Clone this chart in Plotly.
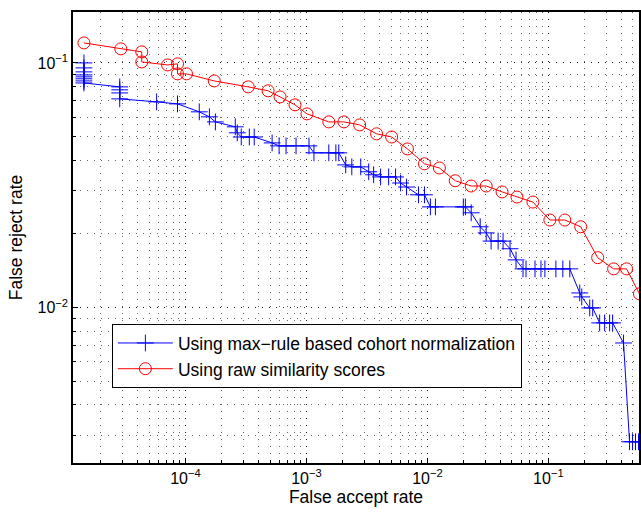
import plotly.graph_objects as go

# Data (log-log DET-style curves)
far_cohort = [1.447e-5, 1.447e-5, 1.447e-5, 1.447e-5, 1.447e-5, 1.447e-5, 1.447e-5, 1.447e-5,
              2.86e-5, 2.86e-5, 2.86e-5, 2.86e-5,
              5.77e-5, 8.59e-5, 1.30e-4, 1.576e-4, 1.766e-4,
              2.58e-4, 2.68e-4, 2.89e-4, 3.37e-4, 3.70e-4,
              5.20e-4, 5.94e-4, 6.78e-4, 8.20e-4, 1.049e-3,
              1.153e-3, 1.53e-3, 1.75e-3, 1.85e-3,
              2.11e-3, 2.37e-3, 2.81e-3, 3.27e-3, 3.59e-3,
              4.10e-3, 4.78e-3, 5.45e-3, 6.0e-3, 6.72e-3,
              8.43e-3, 9.45e-3, 0.01058, 0.01164, 0.0198, 0.0206,
              0.0230, 0.0273, 0.0306, 0.0336, 0.0384, 0.0422,
              0.0482, 0.054, 0.0617, 0.0653, 0.0775, 0.0868, 0.0936,
              0.1153, 0.1316, 0.1503, 0.1816, 0.1887,
              0.2196, 0.2324, 0.2654, 0.2917, 0.3208, 0.3396,
              0.418, 0.4686, 0.496, 0.525, 0.556]
frr_cohort = [0.100, 0.0954, 0.0919, 0.0893, 0.0877, 0.0861, 0.0844, 0.0828,
              0.0798, 0.0776, 0.0754, 0.0713,
              0.0693, 0.0680, 0.0631, 0.0602, 0.0574,
              0.0548, 0.0518, 0.0498, 0.0498, 0.0498,
              0.0471, 0.0458, 0.0458, 0.0458, 0.0458,
              0.0429, 0.0429, 0.0429, 0.0429,
              0.0383, 0.0376, 0.0376, 0.0359, 0.0349,
              0.0342, 0.0342, 0.0342, 0.0323, 0.0311,
              0.0289, 0.0289, 0.0258, 0.0258, 0.0258, 0.0258,
              0.0244, 0.0214, 0.0202, 0.0187, 0.0187, 0.0187,
              0.0174, 0.01567, 0.0144, 0.0144, 0.0144, 0.0144, 0.0144,
              0.0144, 0.0144, 0.0144, 0.01148, 0.01106,
              0.00997, 0.00997, 0.00866, 0.00866, 0.00866, 0.00866,
              0.00717, 0.00283, 0.00283, 0.00283, 0.00283]

far_raw = [1.447e-5, 2.92e-5, 4.35e-5, 4.35e-5, 7.11e-5, 8.59e-5, 8.59e-5, 1.02e-4,
           1.73e-4, 3.30e-4, 4.82e-4, 6.05e-4, 8.04e-4, 1.01e-3, 1.53e-3, 2.04e-3,
           2.75e-3, 3.80e-3, 5.06e-3, 6.84e-3, 9.45e-3, 0.01256, 0.01698, 0.0230,
           0.0306, 0.0414, 0.0550, 0.0745, 0.1028, 0.1367, 0.185, 0.2555, 0.346,
           0.443, 0.566]
frr_raw = [0.1207, 0.1141, 0.1109, 0.1009, 0.0981, 0.0991, 0.0902, 0.0902,
           0.0844, 0.0798, 0.0769, 0.0726, 0.0674, 0.0619, 0.0574, 0.0574,
           0.0558, 0.0513, 0.0498, 0.0445, 0.0387, 0.0372, 0.0330, 0.0314,
           0.0314, 0.0297, 0.0283, 0.0270, 0.0228, 0.0228, 0.0214, 0.0160, 0.0144,
           0.0144, 0.01138]

x_tickvals = [1e-4, 1e-3, 1e-2, 1e-1]
x_ticktext = ["10<sup>−4</sup>", "10<sup>−3</sup>", "10<sup>−2</sup>", "10<sup>−1</sup>"]
y_tickvals = [1e-2, 1e-1]
y_ticktext = ["10<sup>−2</sup>", "10<sup>−1</sup>"]

FONT = "Liberation Sans, Arial, Helvetica, sans-serif"

fig = go.Figure()
fig.add_trace(go.Scatter(
    x=far_cohort, y=frr_cohort, mode="lines+markers",
    name="Using max−rule based cohort normalization",
    line=dict(color="#0000ff", width=1),
    marker=dict(symbol="cross-thin-open", size=12, color="#0000ff",
                line=dict(color="#0000ff", width=1)),
))
fig.add_trace(go.Scatter(
    x=far_raw, y=frr_raw, mode="lines+markers",
    name="Using raw similarity scores",
    line=dict(color="#ff0000", width=1),
    marker=dict(symbol="circle-open", size=12, color="#ff0000",
                line=dict(color="#ff0000", width=1)),
))

axis_common = dict(
    type="log", showline=True, mirror=True, linecolor="black", linewidth=1.5,
    ticks="inside", ticklen=5, tickcolor="black",
    showgrid=True, gridcolor="rgba(0,0,0,0.7)", griddash="1px,6px", gridwidth=1,
    zeroline=False,
    tickfont=dict(family=FONT, size=16, color="black"),
    minor=dict(dtick="D1", ticks="inside", ticklen=3, tickcolor="black",
               showgrid=True, gridcolor="rgba(0,0,0,0.6)", griddash="1px,6px", gridwidth=1),
)

fig.update_xaxes(**axis_common, range=[-4.930, -0.251],
                 tickvals=x_tickvals, ticktext=x_ticktext,
                 title=dict(text="False accept rate", standoff=2,
                            font=dict(family=FONT, size=17.5, color="black")))
fig.update_yaxes(**axis_common, range=[-2.635, -0.792],
                 tickvals=y_tickvals, ticktext=y_ticktext,
                 title=dict(text="False reject rate", standoff=10,
                            font=dict(family=FONT, size=17.5, color="black")))

fig.update_layout(
    width=641, height=514,
    margin=dict(l=73, r=0, t=12, b=51),
    paper_bgcolor="white", plot_bgcolor="white",
    font=dict(family=FONT, size=16, color="black"),
    showlegend=True,
    legend=dict(x=0.0687, y=0.308, xanchor="left", yanchor="top",
                bgcolor="white", bordercolor="black", borderwidth=1,
                font=dict(family=FONT, size=17.5, color="black"),
                itemwidth=55, tracegroupgap=0),
)

fig.write_html("out.html")
